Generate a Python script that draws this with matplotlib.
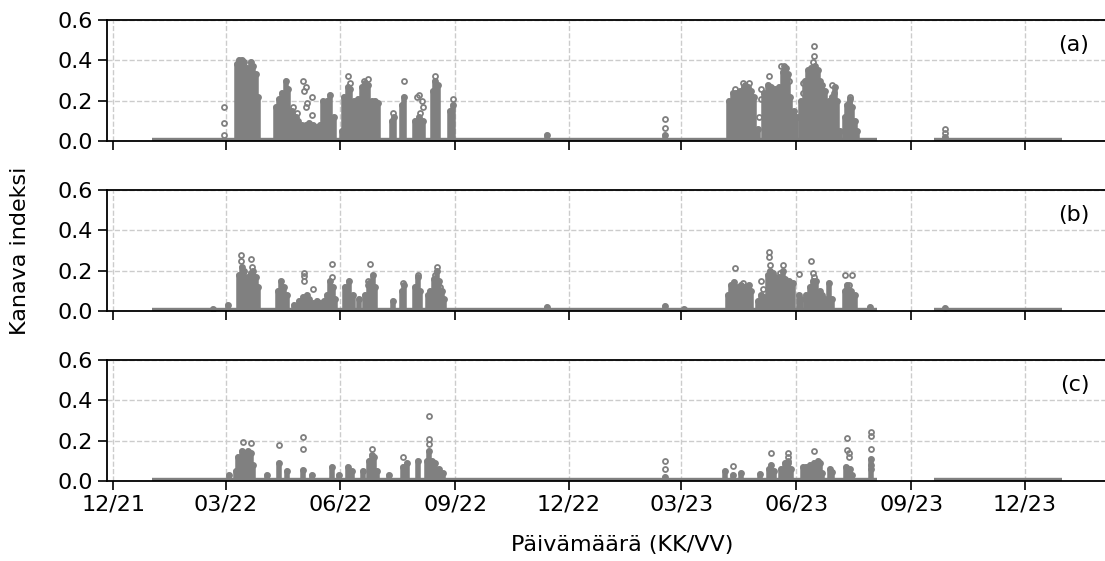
import numpy as np
import matplotlib
matplotlib.use("Agg")
import matplotlib.pyplot as plt
import matplotlib.dates as mdates

# periods where every reading is zero (drawn as the strip at y=0)
base_start = ["2022-01-01", "2023-09-19"]
base_end = ["2023-08-05", "2023-12-31"]

# (a) daily maximum of the dense columns
cols_a_dates = [
    "2022-03-10", "2022-03-12", "2022-03-14", "2022-03-16", "2022-03-18", "2022-03-21", "2022-03-23",
    "2022-03-25", "2022-03-27", "2022-04-10", "2022-04-13", "2022-04-15", "2022-04-18", "2022-04-20",
    "2022-04-23", "2022-04-26", "2022-04-28", "2022-05-01", "2022-05-04", "2022-05-07", "2022-05-10",
    "2022-05-13", "2022-05-16", "2022-05-18", "2022-05-21", "2022-05-24", "2022-05-27", "2022-06-02",
    "2022-06-04", "2022-06-07", "2022-06-09", "2022-06-12", "2022-06-15", "2022-06-18", "2022-06-21",
    "2022-06-23", "2022-06-26", "2022-06-29", "2022-07-01", "2022-07-12", "2022-07-14", "2022-07-20",
    "2022-07-22", "2022-07-31", "2022-08-03", "2022-08-06", "2022-08-14", "2022-08-16", "2022-08-18",
    "2022-08-28", "2022-08-30", "2022-11-13", "2023-02-16", "2023-04-08", "2023-04-11", "2023-04-14",
    "2023-04-17", "2023-04-20", "2023-04-23", "2023-04-26", "2023-04-28", "2023-05-01", "2023-05-06",
    "2023-05-09", "2023-05-12", "2023-05-15", "2023-05-18", "2023-05-21", "2023-05-23", "2023-05-25",
    "2023-05-27", "2023-05-30", "2023-06-01", "2023-06-05", "2023-06-08", "2023-06-10", "2023-06-13",
    "2023-06-16", "2023-06-18", "2023-06-20", "2023-06-22", "2023-06-24", "2023-06-27", "2023-06-30",
    "2023-07-02", "2023-07-04", "2023-07-06", "2023-07-10", "2023-07-12", "2023-07-14", "2023-07-16",
    "2023-07-18", "2023-07-20", "2023-09-28"]
cols_a_vals = [
    0.38, 0.40, 0.40, 0.39, 0.36, 0.39, 0.37,
    0.33, 0.22, 0.17, 0.21, 0.24, 0.30, 0.26,
    0.15, 0.12, 0.10, 0.08, 0.08, 0.09, 0.08,
    0.07, 0.08, 0.20, 0.20, 0.23, 0.12, 0.05,
    0.22, 0.27, 0.26, 0.20, 0.21, 0.27, 0.29,
    0.28, 0.20, 0.20, 0.19, 0.10, 0.12, 0.18,
    0.22, 0.10, 0.12, 0.10, 0.25, 0.30, 0.28,
    0.15, 0.18, 0.03, 0.03, 0.20, 0.24, 0.24,
    0.25, 0.27, 0.27, 0.25, 0.22, 0.06, 0.24,
    0.28, 0.27, 0.26, 0.27, 0.34, 0.36, 0.33,
    0.22, 0.15, 0.12, 0.20, 0.30, 0.35, 0.36,
    0.37, 0.35, 0.30, 0.28, 0.25, 0.20, 0.22,
    0.27, 0.20, 0.05, 0.12, 0.18, 0.21, 0.17,
    0.10, 0.05, 0.02]
# (a) single readings standing out
dots_a_dates = [
    "2022-02-28", "2022-02-28", "2022-02-28", "2022-04-24", "2022-04-27", "2022-05-02", "2022-05-04",
    "2022-05-03", "2022-05-09", "2022-05-05", "2022-05-04", "2022-05-09", "2022-06-07", "2022-06-09",
    "2022-06-20", "2022-06-23", "2022-07-13", "2022-07-22", "2022-08-01", "2022-08-03", "2022-08-05",
    "2022-08-06", "2022-08-04", "2022-08-16", "2022-08-30", "2023-02-16", "2023-02-16", "2023-04-13",
    "2023-04-19", "2023-04-21", "2023-04-24", "2023-05-02", "2023-05-04", "2023-05-04", "2023-05-10",
    "2023-05-20", "2023-05-22", "2023-05-24", "2023-05-26", "2023-05-29", "2023-06-02", "2023-06-15",
    "2023-06-15", "2023-06-14", "2023-06-06", "2023-06-06", "2023-06-30", "2023-07-01", "2023-07-14",
    "2023-07-13", "2023-09-28", "2023-09-28"]
dots_a_vals = [
    0.17, 0.09, 0.03, 0.17, 0.14, 0.30, 0.27,
    0.25, 0.22, 0.19, 0.17, 0.13, 0.32, 0.29,
    0.30, 0.31, 0.14, 0.30, 0.22, 0.23, 0.20,
    0.17, 0.14, 0.32, 0.21, 0.11, 0.065, 0.26,
    0.29, 0.28, 0.29, 0.12, 0.21, 0.26, 0.32,
    0.37, 0.37, 0.36, 0.30, 0.12, 0.12, 0.47,
    0.42, 0.39, 0.29, 0.24, 0.28, 0.24, 0.22,
    0.19, 0.06, 0.04]

# (b)
cols_b_dates = [
    "2022-02-19", "2022-03-03", "2022-03-12", "2022-03-14", "2022-03-16", "2022-03-19", "2022-03-21",
    "2022-03-23", "2022-03-25", "2022-03-27", "2022-04-12", "2022-04-14", "2022-04-17", "2022-04-19",
    "2022-04-25", "2022-04-29", "2022-05-02", "2022-05-05", "2022-05-07", "2022-05-10", "2022-05-13",
    "2022-05-16", "2022-05-19", "2022-05-21", "2022-05-24", "2022-05-26", "2022-05-28", "2022-06-05",
    "2022-06-08", "2022-06-11", "2022-06-16", "2022-06-21", "2022-06-24", "2022-06-27", "2022-06-29",
    "2022-07-13", "2022-07-20", "2022-07-22", "2022-07-31", "2022-08-02", "2022-08-04", "2022-08-10",
    "2022-08-12", "2022-08-15", "2022-08-17", "2022-08-19", "2022-08-21", "2022-08-23", "2022-11-13",
    "2023-02-16", "2023-03-03", "2023-04-07", "2023-04-10", "2023-04-12", "2023-04-15", "2023-04-18",
    "2023-04-21", "2023-04-24", "2023-04-26", "2023-05-01", "2023-05-04", "2023-05-06", "2023-05-09",
    "2023-05-11", "2023-05-13", "2023-05-15", "2023-05-18", "2023-05-21", "2023-05-23", "2023-05-26",
    "2023-05-29", "2023-06-03", "2023-06-05", "2023-06-09", "2023-06-12", "2023-06-14", "2023-06-17",
    "2023-06-20", "2023-06-22", "2023-06-24", "2023-06-27", "2023-06-30", "2023-07-10", "2023-07-12",
    "2023-07-15", "2023-07-18", "2023-07-30", "2023-09-28"]
cols_b_vals = [
    0.01, 0.03, 0.18, 0.22, 0.20, 0.17, 0.19,
    0.20, 0.17, 0.12, 0.10, 0.15, 0.12, 0.08,
    0.03, 0.05, 0.07, 0.08, 0.06, 0.04, 0.05,
    0.04, 0.05, 0.08, 0.15, 0.12, 0.06, 0.12,
    0.15, 0.08, 0.06, 0.08, 0.14, 0.18, 0.12,
    0.05, 0.10, 0.13, 0.12, 0.17, 0.10, 0.08,
    0.10, 0.16, 0.20, 0.15, 0.10, 0.06, 0.02,
    0.025, 0.01, 0.08, 0.13, 0.145, 0.12, 0.13,
    0.12, 0.13, 0.10, 0.05, 0.08, 0.07, 0.18,
    0.20, 0.19, 0.17, 0.17, 0.20, 0.16, 0.15,
    0.14, 0.08, 0.06, 0.08, 0.12, 0.15, 0.15,
    0.10, 0.08, 0.06, 0.14, 0.06, 0.10, 0.13,
    0.10, 0.08, 0.02, 0.015]
dots_b_dates = [
    "2022-03-13", "2022-03-13", "2022-03-21", "2022-03-22", "2022-05-03", "2022-05-03", "2022-05-03",
    "2022-05-10", "2022-05-25", "2022-05-25", "2022-06-25", "2022-06-23", "2022-06-23", "2022-07-21",
    "2022-08-02", "2022-08-17", "2022-08-16", "2022-08-20", "2023-04-13", "2023-04-19", "2023-05-04",
    "2023-05-05", "2023-05-10", "2023-05-10", "2023-05-11", "2023-05-21", "2023-05-19", "2023-06-03",
    "2023-06-13", "2023-06-14", "2023-06-15", "2023-07-10", "2023-07-16", "2023-07-13"]
dots_b_vals = [
    0.28, 0.25, 0.26, 0.22, 0.19, 0.175, 0.15,
    0.11, 0.235, 0.17, 0.235, 0.15, 0.13, 0.14,
    0.18, 0.22, 0.18, 0.12, 0.215, 0.14, 0.15,
    0.11, 0.294, 0.27, 0.23, 0.23, 0.19, 0.185,
    0.247, 0.19, 0.17, 0.18, 0.18, 0.13]

# (c)
cols_c_dates = [
    "2022-03-04", "2022-03-09", "2022-03-11", "2022-03-14", "2022-03-16", "2022-03-19", "2022-03-21",
    "2022-03-23", "2022-04-03", "2022-04-13", "2022-04-19", "2022-05-02", "2022-05-09", "2022-05-25",
    "2022-05-31", "2022-06-07", "2022-06-10", "2022-06-19", "2022-06-24", "2022-06-26", "2022-06-28",
    "2022-06-30", "2022-07-10", "2022-07-21", "2022-07-24", "2022-08-02", "2022-08-09", "2022-08-11",
    "2022-08-13", "2022-08-16", "2022-08-19", "2022-08-22", "2023-02-16", "2023-04-05", "2023-04-11",
    "2023-04-18", "2023-05-03", "2023-05-10", "2023-05-12", "2023-05-14", "2023-05-20", "2023-05-23",
    "2023-05-25", "2023-05-28", "2023-06-06", "2023-06-09", "2023-06-12", "2023-06-15", "2023-06-18",
    "2023-06-20", "2023-06-22", "2023-06-28", "2023-06-30", "2023-07-11", "2023-07-14", "2023-07-16",
    "2023-07-31"]
cols_c_vals = [
    0.03, 0.05, 0.12, 0.15, 0.14, 0.15, 0.14,
    0.08, 0.03, 0.09, 0.05, 0.055, 0.03, 0.07,
    0.03, 0.07, 0.05, 0.05, 0.10, 0.13, 0.12,
    0.05, 0.03, 0.07, 0.09, 0.10, 0.10, 0.15,
    0.10, 0.09, 0.06, 0.04, 0.02, 0.05, 0.03,
    0.04, 0.035, 0.06, 0.08, 0.05, 0.06, 0.09,
    0.09, 0.06, 0.07, 0.07, 0.08, 0.09, 0.10,
    0.09, 0.04, 0.06, 0.045, 0.07, 0.06, 0.03,
    0.11]
dots_c_dates = [
    "2022-03-15", "2022-03-21", "2022-03-13", "2022-03-12", "2022-04-13", "2022-05-02", "2022-05-02",
    "2022-06-26", "2022-07-21", "2022-08-11", "2022-08-11", "2022-08-11", "2022-08-10", "2023-02-16",
    "2023-02-16", "2023-04-11", "2023-05-12", "2023-05-25", "2023-05-25", "2023-05-25", "2023-06-15",
    "2023-07-12", "2023-07-12", "2023-07-13", "2023-07-13", "2023-07-31", "2023-07-31", "2023-07-31",
    "2023-07-31", "2023-07-31"]
dots_c_vals = [
    0.195, 0.19, 0.10, 0.08, 0.18, 0.22, 0.16,
    0.16, 0.12, 0.32, 0.21, 0.185, 0.06, 0.10,
    0.06, 0.075, 0.14, 0.14, 0.12, 0.10, 0.15,
    0.215, 0.155, 0.14, 0.12, 0.245, 0.225, 0.16,
    0.08, 0.06]

panels = [
    ("(a)", cols_a_dates, cols_a_vals, dots_a_dates, dots_a_vals),
    ("(b)", cols_b_dates, cols_b_vals, dots_b_dates, dots_b_vals),
    ("(c)", cols_c_dates, cols_c_vals, dots_c_dates, dots_c_vals),
]

plt.rcParams["font.family"] = "DejaVu Sans"
plt.rcParams["font.size"] = 16

fig, axes = plt.subplots(3, 1, figsize=(11.05, 5.61), dpi=100, sharex=True)
fig.subplots_adjust(left=0.0968, right=1.002, top=0.9643, bottom=0.1426, hspace=0.405)

c = "#808080"
for ax, (lab, cd, cv, dd, dv) in zip(axes, panels):
    bs = np.array(base_start, dtype="datetime64[D]")
    be = np.array(base_end, dtype="datetime64[D]")
    ax.hlines(np.zeros(len(bs)), bs, be, colors=c, linewidth=4.6, zorder=2)
    cdates = np.array(cd, dtype="datetime64[D]")
    ax.vlines(cdates, 0, cv, colors=c, linewidth=4.0, capstyle="round", zorder=2)
    # ring edge on top of each column, like the stacked markers
    ax.plot(cdates, cv, "o", mfc="none", mec=c, ms=3.6, mew=1.3, linestyle="none", zorder=2)
    ax.plot(np.array(dd, dtype="datetime64[D]"), dv, "o", mfc="none", mec=c,
            ms=3.6, mew=1.3, linestyle="none", zorder=2)
    ax.set_ylim(0, 0.6)
    ax.set_yticks([0.0, 0.2, 0.4, 0.6])
    ax.grid(True, linestyle="--", color="#cccccc", linewidth=1.0, zorder=0)
    ax.set_axisbelow(True)
    ax.spines["right"].set_visible(False)
    for s in ["left", "top", "bottom"]:
        ax.spines[s].set_linewidth(1.3)
    ax.tick_params(length=6.5, width=1.2, labelsize=16)
    ax.text(0.982, 0.79, lab, transform=ax.transAxes, ha="right", va="center", fontsize=16)

axes[-1].set_xlim(np.datetime64("2021-11-26"), np.datetime64("2024-02-05"))
axes[-1].xaxis.set_major_locator(mdates.MonthLocator(bymonth=[3, 6, 9, 12]))
axes[-1].xaxis.set_major_formatter(mdates.DateFormatter("%m/%y"))
axes[-1].set_xlabel("Päivämäärä (KK/VV)", fontsize=16)
axes[-1].xaxis.set_label_coords(0.515, -0.45)
axes[1].set_ylabel("Kanava indeksi", fontsize=16)
axes[1].yaxis.set_label_coords(-0.077, 0.5)

fig.savefig("out.png", dpi=100)
